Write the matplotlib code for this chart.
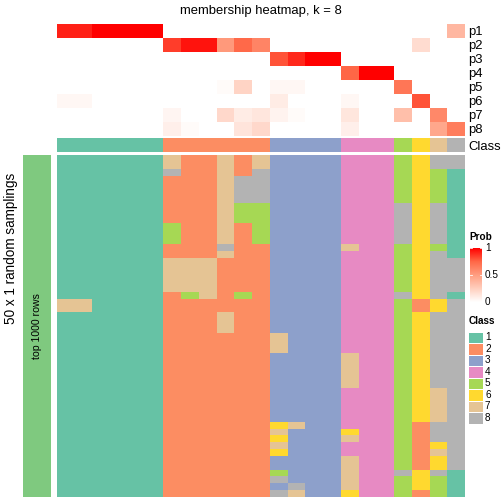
import matplotlib
matplotlib.use("Agg")
import matplotlib.pyplot as plt
import numpy as np
from matplotlib.colors import LinearSegmentedColormap, ListedColormap
from matplotlib.patches import Rectangle

plt.rcParams["font.family"] = ["Liberation Sans", "DejaVu Sans"]

W = H = 504

# consensus class of each column
col_class = [1, 1, 1, 1, 1, 1, 2, 2, 2, 2, 2, 2, 3, 3, 3, 3, 4, 4, 4, 5, 6, 7, 8]
class_colors = ["#66C2A5", "#FC8D62", "#8DA0CB", "#E78AC3",
                "#A6D854", "#FFD92F", "#E5C494", "#B3B3B3"]
class_labels = ["1", "2", "3", "4", "5", "6", "7", "8"]

# membership probabilities, one list per class
p1 = [0.92, 0.92, 1, 1, 1, 1, 0, 0, 0, 0, 0, 0, 0, 0, 0, 0, 0, 0, 0, 0, 0, 0, 0.37]
p2 = [0, 0, 0, 0, 0, 0, 0.85, 0.95, 0.95, 0.52, 0.74, 0.62, 0, 0, 0, 0, 0, 0, 0, 0, 0.18, 0, 0]
p3 = [0, 0, 0, 0, 0, 0, 0, 0, 0, 0, 0, 0, 0.8, 0.9, 1, 1, 0, 0, 0, 0, 0, 0, 0]
p4 = [0, 0, 0, 0, 0, 0, 0, 0, 0, 0, 0, 0, 0, 0, 0, 0, 0.75, 1, 1, 0, 0, 0, 0]
p5 = [0, 0, 0, 0, 0, 0, 0, 0, 0, 0.02, 0.22, 0, 0.04, 0.04, 0, 0, 0, 0, 0, 0.68, 0, 0, 0]
p6 = [0.04, 0.04, 0, 0, 0, 0, 0, 0, 0, 0, 0, 0, 0.1, 0, 0, 0, 0.04, 0, 0, 0, 0.8, 0, 0]
p7 = [0, 0, 0, 0, 0, 0, 0.05, 0, 0, 0.2, 0.1, 0.13, 0.06, 0.02, 0, 0, 0.13, 0, 0, 0.33, 0, 0.6, 0]
p8 = [0, 0, 0, 0, 0, 0, 0.08, 0.02, 0, 0, 0.14, 0.2, 0, 0, 0, 0, 0.08, 0, 0, 0, 0, 0.45, 0.65]
prob_names = ["p1", "p2", "p3", "p4", "p5", "p6", "p7", "p8"]

# class assigned in each of the 50 samplings, one string per column (top to bottom)
samplings = [
    "1111111111 1111111111 1771111111 1111111111 1111111111",
    "1111111111 1111111111 1771111111 1111111111 1111111111",
    "1111111111 1111111111 1111111111 1111111111 1111111111",
    "1111111111 1111111111 1111111111 1111111111 1111111111",
    "1111111111 1111111111 1111111111 1111111111 1111111111",
    "1111111111 1111111111 1111111111 1111111111 1111111111",
    "7782222222 5552277777 2222222222 2222222222 2222222222",
    "2222222222 2222277777 5222222222 2222222222 2222222222",
    "2222222222 2222277777 7222222222 2222222222 2222222222",
    "7777777777 7778722222 2227772222 2222222222 2222222222",
    "2228888555 2222222222 5222222222 2222222222 2222222222",
    "7788888555 5552222222 2222222222 2222222222 2222222222",
    "3333333333 3333333333 3333337773 3333333336 7676335838",
    "3333333333 3333333333 3333333333 3333333337 3333333387",
    "3333333333 3333333333 3333333333 3333333333 3333333333",
    "3333333333 3333333333 3333333333 3333333333 3333333333",
    "4444444444 4447444444 4444444447 7777444444 6744777776",
    "4444444444 4444444444 4444444444 4444444444 4444444444",
    "4444444444 4444444444 4444444444 4444444444 4444444444",
    "5555555888 8885555555 8555555555 5555555555 5555558555",
    "6666666666 6666666666 6226666666 6666666662 2222226662",
    "8855555888 8885888888 8668888888 8888777778 8867668555",
    "8811111111 1111188888 1888888888 8888888888 8888881111",
]


def px_axes(fig, x0, y0, x1, y1):
    ax = fig.add_axes([x0 / W, 1 - y1 / H, (x1 - x0) / W, (y1 - y0) / H])
    return ax


def clean(ax):
    ax.set_xticks([])
    ax.set_yticks([])
    for s in ax.spines.values():
        s.set_visible(False)


prob_cmap = LinearSegmentedColormap.from_list(
    "prob", [(0, "#FFFFFF"), (0.25, "#FFCFBE"), (0.5, "#FF9E81"),
             (0.75, "#FF6847"), (1, "#FF0000")])
class_cmap = ListedColormap(class_colors)

prob = np.array([p1, p2, p3, p4, p5, p6, p7, p8])
memb = np.array([[int(ch) for ch in s.replace(" ", "")] for s in samplings]).T

fig = plt.figure(figsize=(W / 72, H / 72), dpi=72)

fig.text(261 / W, 1 - 11 / H, "membership heatmap, k = 8",
         ha="center", va="center", fontsize=13)

# probability rows
ax = px_axes(fig, 57, 24, 465, 136)
ax.imshow(prob, cmap=prob_cmap, vmin=0, vmax=1, aspect="auto", interpolation="nearest")
clean(ax)
ax.yaxis.tick_right()
ax.set_yticks(range(len(prob_names)), prob_names, fontsize=13)
ax.tick_params(axis="y", length=0, pad=3)

# class annotation row
ax = px_axes(fig, 57, 138, 465, 152)
ax.imshow(np.array([col_class]), cmap=class_cmap, vmin=0.5, vmax=8.5,
          aspect="auto", interpolation="nearest")
clean(ax)
ax.yaxis.tick_right()
ax.set_yticks([0], ["Class"], fontsize=13)
ax.tick_params(axis="y", length=0, pad=3)

# samplings body
ax = px_axes(fig, 57, 155, 465, 497)
ax.imshow(memb, cmap=class_cmap, vmin=0.5, vmax=8.5, aspect="auto", interpolation="nearest")
clean(ax)

# left split bar
ax = px_axes(fig, 23, 155, 51, 497)
ax.add_patch(Rectangle((0, 0), 1, 1, facecolor="#7FC97F", edgecolor="none"))
ax.set_xlim(0, 1)
ax.set_ylim(0, 1)
clean(ax)
ax.text(0.5, 0.5, "top 1000 rows", rotation=90, ha="center", va="center", fontsize=10.5)

fig.text(11 / W, 1 - 248 / H, "50 x 1 random samplings", rotation=90,
         ha="center", va="center", fontsize=13.5)

# Prob legend
fig.text(469 / W, 1 - 237 / H, "Prob", ha="left", va="center",
         fontsize=10, fontweight="bold")
ax = px_axes(fig, 470, 248, 482, 302)
grad = np.linspace(1, 0, 256)[:, None]
ax.imshow(grad, cmap=prob_cmap, vmin=0, vmax=1, aspect="auto", extent=(0, 1, 0, 1))
ax.set_xlim(0, 1)
ax.set_ylim(0, 1)
clean(ax)
for yv in (0.5, 1.0):
    ax.plot([0, 0.2], [yv, yv], color="white", lw=0.8)
    ax.plot([0.8, 1], [yv, yv], color="white", lw=0.8)
for yv, lab in zip((1, 0.5, 0), ("1", "0.5", "0")):
    fig.text(485 / W, 1 - (302 - 54 * yv) / H, lab, ha="left", va="center", fontsize=10)

# Class legend
fig.text(469 / W, 1 - 321 / H, "Class", ha="left", va="center",
         fontsize=10, fontweight="bold")
ax = px_axes(fig, 468, 331.5, 483, 423.5)
for i, c in enumerate(class_colors):
    ax.add_patch(Rectangle((0, i), 1, 1, facecolor=c, edgecolor="white", lw=1))
ax.set_xlim(0, 1)
ax.set_ylim(len(class_colors), 0)
clean(ax)
for i, lab in enumerate(class_labels):
    fig.text(485 / W, 1 - (331.5 + 11.5 * (i + 0.5)) / H, lab,
             ha="left", va="center", fontsize=10)

fig.savefig("out.png", dpi=72)
